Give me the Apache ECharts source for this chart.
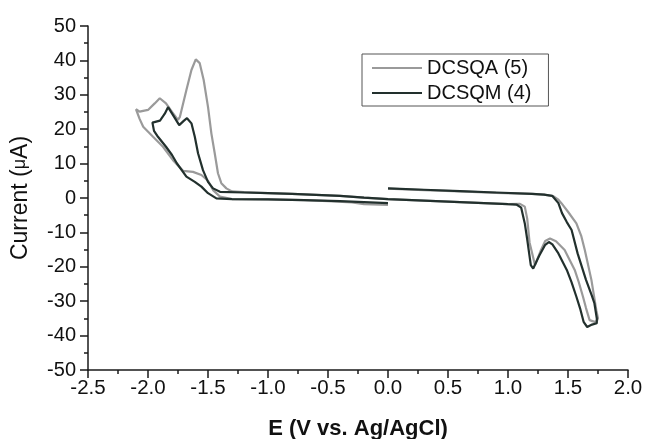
<!DOCTYPE html>
<html>
<head>
<meta charset="utf-8">
<script src="https://cdn.jsdelivr.net/npm/echarts@6/dist/echarts.min.js"></script>
<style>
html,body{margin:0;padding:0;background:#fff;}
#chart{width:645px;height:439px;}
</style>
</head>
<body>
<div id="chart"></div>
<script>
// Series names
var seriesNames = ['DCSQA (5)', 'DCSQM (4)'];

// DCSQA (5) — [E (V), current (µA)] in scan order, starting at 0 V
var dcsqaE = [0.0, 0.3, 0.6, 0.9, 1.2, 1.3, 1.38, 1.42, 1.445, 1.5, 1.57, 1.61, 1.64, 1.695, 1.736, 1.75, 1.74, 1.722, 1.68, 1.65, 1.625, 1.59, 1.556, 1.472, 1.40, 1.35, 1.31, 1.27, 1.225, 1.21, 1.18, 1.16, 1.14, 1.10, 1.0, 0.8, 0.6, 0.4, 0.2, 0.0, -0.2, -0.4, -0.6, -0.8, -1.0, -1.2, -1.3, -1.347, -1.389, -1.417, -1.444, -1.472, -1.50, -1.536, -1.569, -1.602, -1.638, -1.68, -1.734, -1.75, -1.80, -1.85, -1.902, -1.944, -2.0, -2.07, -2.10, -2.07, -2.04, -1.958, -1.875, -1.792, -1.708, -1.625, -1.555, -1.50, -1.458, -1.40, -1.3, -1.0, -0.7, -0.5, -0.3, -0.2, 0.0];
var dcsqaI = [2.7, 2.3, 1.9, 1.5, 1.2, 1.0, 0.5, -0.5, -1.5, -4.0, -7.4, -11.0, -15.1, -23.8, -32.6, -35.0, -35.8, -36.0, -35.5, -32.0, -28.7, -24.5, -20.9, -15.1, -12.6, -11.8, -12.5, -15.5, -19.5, -19.3, -13.0, -6.0, -2.5, -1.7, -1.8, -1.5, -1.2, -0.9, -0.6, -0.3, 0.1, 0.6, 0.9, 1.2, 1.4, 1.7, 1.9, 2.8, 4.3, 7.2, 13.0, 18.8, 26.5, 34.3, 39.2, 40.3, 37.2, 31.4, 23.6, 22.7, 25.0, 27.5, 29.0, 27.5, 25.6, 25.1, 25.8, 23.0, 20.7, 17.8, 14.9, 11.0, 7.9, 7.6, 6.7, 5.0, 2.3, 0.4, -0.3, -0.4, -0.6, -0.9, -1.3, -1.8, -2.0];

// DCSQM (4)
var dcsqmE = [0.0, 0.3, 0.6, 0.9, 1.2, 1.3, 1.37, 1.42, 1.45, 1.49, 1.53, 1.58, 1.65, 1.70, 1.72, 1.74, 1.74, 1.70, 1.66, 1.63, 1.60, 1.57, 1.53, 1.49, 1.42, 1.37, 1.34, 1.31, 1.26, 1.21, 1.19, 1.16, 1.14, 1.11, 1.07, 1.0, 0.8, 0.6, 0.4, 0.2, 0.0, -0.2, -0.4, -0.6, -0.8, -1.0, -1.2, -1.40, -1.458, -1.50, -1.542, -1.583, -1.61, -1.638, -1.675, -1.70, -1.74, -1.79, -1.833, -1.86, -1.90, -1.963, -1.95, -1.917, -1.85, -1.80, -1.76, -1.68, -1.61, -1.555, -1.50, -1.43, -1.3, -1.0, -0.7, -0.4, -0.2, 0.0];
var dcsqmI = [2.8, 2.4, 2.0, 1.6, 1.2, 1.0, 0.6, -1.5, -4.4, -7.0, -9.3, -16.1, -23.8, -28.5, -30.6, -35.0, -36.4, -36.8, -37.5, -36.0, -32.0, -28.7, -24.5, -20.9, -16.1, -13.5, -12.8, -13.6, -16.8, -20.5, -19.5, -12.0, -7.4, -2.8, -1.9, -1.8, -1.5, -1.2, -0.9, -0.6, -0.3, 0.1, 0.6, 0.9, 1.2, 1.4, 1.6, 1.8, 2.8, 4.7, 8.1, 13.0, 17.8, 21.7, 23.2, 22.5, 21.2, 24.0, 26.4, 24.5, 22.5, 21.9, 19.5, 17.8, 14.9, 12.5, 10.1, 6.2, 4.7, 3.3, 1.4, -0.1, -0.3, -0.4, -0.6, -0.9, -1.2, -1.5];

// Axis ticks
var xMin = -2.5, xMax = 2.0, xStep = 0.5;
var yMin = -50, yMax = 50, yStep = 10;

function pairs(xs, ys) {
  var out = [];
  for (var i = 0; i < xs.length; i++) out.push([xs[i], ys[i]]);
  return out;
}

var FONT = 'Liberation Sans, Arial, Helvetica, sans-serif';
var chart = echarts.init(document.getElementById('chart'), null, {renderer: 'canvas'});
var axisCommon = {
  axisLine: {show: true, onZero: false, lineStyle: {color: '#1a1a1a', width: 1.5}},
  axisTick: {show: true, inside: false, length: 8, lineStyle: {color: '#1a1a1a', width: 1.5}},
  minorTick: {show: true, splitNumber: 2, length: 4, lineStyle: {color: '#1a1a1a', width: 1.5}},
  splitLine: {show: false},
  minorSplitLine: {show: false}
};
chart.setOption({
  animation: false,
  backgroundColor: '#fff',
  grid: {left: 88, right: 17, top: 26, bottom: 69, containLabel: false, outerBoundsMode: 'none'},
  legend: {
    orient: 'vertical',
    left: 362, top: 54,
    padding: [4, 17, 3, 10],
    itemWidth: 50, itemHeight: 14, itemGap: 5,
    borderColor: '#555', borderWidth: 1,
    icon: 'path://M0,6 L50,6 L50,8 L0,8 Z',
    textStyle: {fontFamily: FONT, fontSize: 20, color: '#111'},
    data: seriesNames
  },
  xAxis: Object.assign({
    type: 'value', min: xMin, max: xMax, interval: xStep,
    name: 'E (V vs. Ag/AgCl)', nameLocation: 'middle', nameGap: 48,
    nameTextStyle: {fontFamily: FONT, fontSize: 22, fontWeight: 'bold', color: '#111'},
    axisLabel: {margin: 8, fontFamily: FONT, fontSize: 20.5, color: '#111',
      formatter: function (v) { return v.toFixed(1); }}
  }, axisCommon),
  yAxis: Object.assign({
    type: 'value', min: yMin, max: yMax, interval: yStep,
    name: 'Current ({mu|μ}A)', nameLocation: 'middle', nameGap: 56, nameRotate: 90,
    nameTextStyle: {fontFamily: FONT, fontSize: 23, color: '#111',
      rich: {mu: {fontFamily: FONT, fontSize: 18, color: '#111'}}},
    axisLabel: {margin: 12, fontFamily: FONT, fontSize: 20, color: '#111'}
  }, axisCommon),
  series: [
    {name: seriesNames[0], type: 'line', data: pairs(dcsqaE, dcsqaI), symbol: 'none', showSymbol: false,
     lineStyle: {color: '#9a9a9a', width: 2.2}, itemStyle: {color: '#9a9a9a'}, z: 2},
    {name: seriesNames[1], type: 'line', data: pairs(dcsqmE, dcsqmI), symbol: 'none', showSymbol: false,
     lineStyle: {color: '#22302d', width: 2.2}, itemStyle: {color: '#22302d'}, z: 3}
  ]
});
</script>
</body>
</html>
